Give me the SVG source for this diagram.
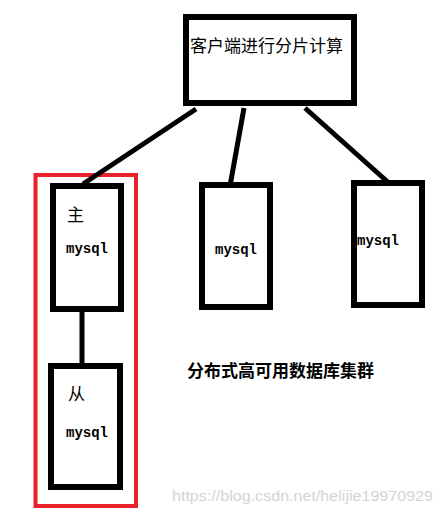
<svg xmlns="http://www.w3.org/2000/svg" width="443" height="516" viewBox="0 0 443 516">
<style>
.box{fill:#fff;stroke:#000;stroke-width:6}
.cn{font-family:"Liberation Sans","Noto Sans CJK SC",sans-serif;font-size:17px;fill:#000}
.my{font-family:"Liberation Mono",monospace;font-weight:bold;font-size:14px;fill:#000}
.ln{stroke:#000;stroke-width:5;fill:none}
</style>
<rect width="443" height="516" fill="#fff"/>
<rect id="cluster" x="35.5" y="175" width="100.5" height="331" fill="none" stroke="#e8212a" stroke-width="4"/>
<g id="connectors">
<line class="ln" x1="196" y1="109" x2="83" y2="184"/>
<line class="ln" x1="244" y1="108" x2="230" y2="186"/>
<line class="ln" x1="305" y1="108" x2="390" y2="184"/>
<line class="ln" x1="82" y1="312" x2="82" y2="366"/>
</g>
<g id="client">
<rect class="box" x="186" y="17" width="168" height="86"/>
<text class="cn" x="190" y="52">客户端进行分片计算</text>
</g>
<g id="master">
<rect class="box" x="53" y="186" width="68" height="123"/>
<text class="cn" x="67" y="221" font-size="15">主</text>
<text class="my" x="66" y="253">mysql</text>
</g>
<g id="slave">
<rect class="box" x="51" y="366" width="69" height="121"/>
<text class="cn" x="68" y="400" font-size="15">从</text>
<text class="my" x="66" y="437">mysql</text>
</g>
<g id="shard2">
<rect class="box" x="202" y="185" width="68" height="122"/>
<text class="my" x="215" y="254">mysql</text>
</g>
<g id="shard3">
<rect class="box" x="354" y="183" width="68" height="122"/>
<text class="my" x="357" y="245">mysql</text>
</g>
<text class="cn" x="187" y="377" font-weight="bold">分布式高可用数据库集群</text>
<text x="172" y="501" font-family="Liberation Sans,sans-serif" font-size="15" fill="#d4d4d4" textLength="261" lengthAdjust="spacingAndGlyphs">https://blog.csdn.net/helijie19970929</text>
</svg>
